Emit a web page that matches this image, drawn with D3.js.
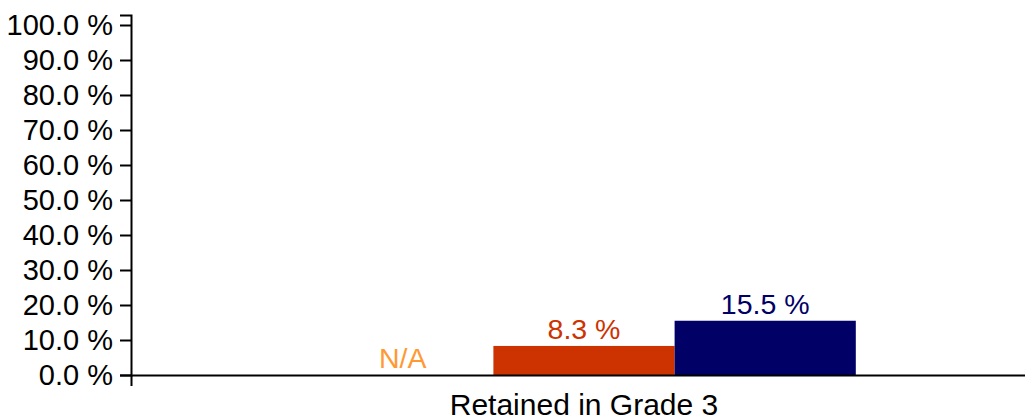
<!DOCTYPE html>
<html>
<head>
<meta charset="utf-8">
<script src="https://cdn.jsdelivr.net/npm/d3@7"></script>
<style>
  body { margin: 0; background: #fff; }
  svg { display: block; font-family: "Liberation Sans", Arial, sans-serif; }
</style>
</head>
<body>
<svg id="chart"></svg>
<script>
var width = 1025;
var height = 420;

// data
var categories = ['Retained in Grade 3'];
var seriesNames = ['School', 'District', 'State'];
var seriesValues = [null, 8.3, 15.5];
var seriesColors = ['#ff9933', '#cc3300', '#000066'];
var yTicks = [0, 10, 20, 30, 40, 50, 60, 70, 80, 90, 100];

var left = 131;
var bottom = 375;

var svg = d3.select('#chart')
    .attr('width', width)
    .attr('height', height);

// 0..100 spans 375..25, the axis line runs a bit higher
var y = d3.scaleLinear()
    .domain([0, 100 * 360 / 350])
    .range([bottom, 15]);

var x0 = d3.scaleBand()
    .domain(categories)
    .range([left, 1037])
    .padding(0.25);

var x1 = d3.scaleBand()
    .domain(seriesNames)
    .range([0, x0.bandwidth()]);

var yAxis = d3.axisLeft(y)
    .tickValues(yTicks)
    .tickSize(11)
    .tickPadding(7)
    .tickFormat(function(d) { return d3.format('.1f')(d) + ' %'; });

var gy = svg.append('g')
    .attr('transform', 'translate(' + left + ',0)')
    .call(yAxis);

gy.selectAll('text')
    .attr('font-size', 29)
    .attr('font-family', '"Liberation Sans", Arial, sans-serif')
    .attr('fill', '#000');
gy.selectAll('line, path').attr('stroke', '#000').attr('stroke-width', 2);

var xAxis = d3.axisBottom(x0)
    .tickSizeInner(0)
    .tickSizeOuter(11)
    .tickPadding(19);

var gx = svg.append('g')
    .attr('transform', 'translate(0,' + bottom + ')')
    .call(xAxis);

gx.selectAll('text')
    .attr('font-size', 30)
    .attr('font-family', '"Liberation Sans", Arial, sans-serif')
    .attr('fill', '#000');
gx.selectAll('line, path').attr('stroke', '#000').attr('stroke-width', 2);

var rows = seriesNames.map(function(name, i) {
    return { name: name, value: seriesValues[i], color: seriesColors[i], cat: categories[0] };
});

var group = svg.append('g').attr('class', 'bars');

group.selectAll('rect')
    .data(rows.filter(function(d) { return d.value != null; }))
  .enter().append('rect')
    .attr('x', function(d) { return x0(d.cat) + x1(d.name); })
    .attr('y', function(d) { return y(d.value); })
    .attr('width', x1.bandwidth())
    .attr('height', function(d) { return bottom - y(d.value); })
    .attr('fill', function(d) { return d.color; });

group.selectAll('text')
    .data(rows)
  .enter().append('text')
    .attr('x', function(d) { return x0(d.cat) + x1(d.name) + x1.bandwidth() / 2; })
    .attr('y', function(d) { return (d.value == null ? bottom : y(d.value)) - 7; })
    .attr('text-anchor', 'middle')
    .attr('font-size', 28.5)
    .attr('fill', function(d) { return d.color; })
    .text(function(d) { return d.value == null ? 'N/A' : d3.format('.1f')(d.value) + ' %'; });

// keep the axis line above the bars
gx.raise();
</script>
</body>
</html>
